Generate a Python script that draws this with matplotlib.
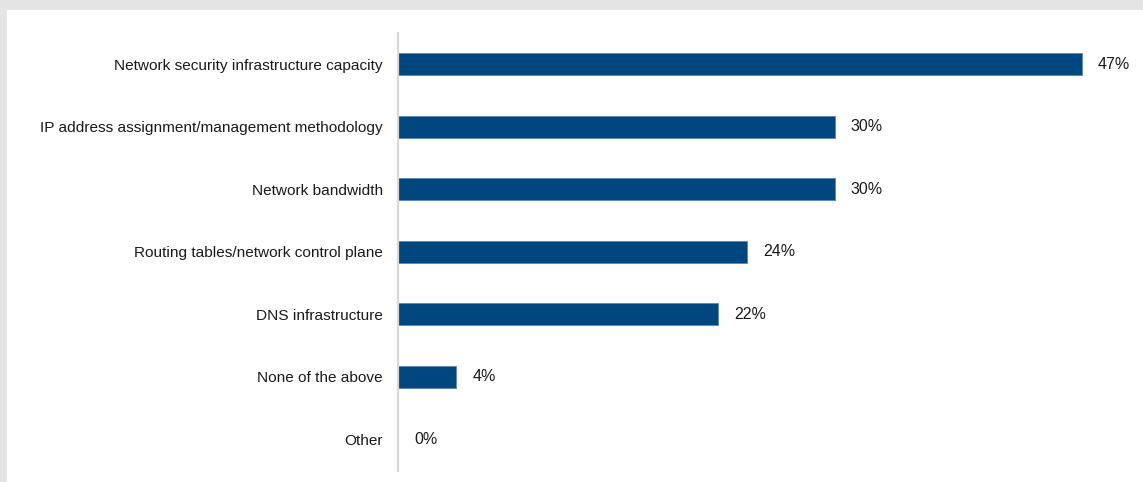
import matplotlib
matplotlib.use('Agg')
from matplotlib import pyplot as plt
from matplotlib.patches import Rectangle
from matplotlib import font_manager

categories = [
    'Network security infrastructure capacity',
    'IP address assignment/management methodology',
    'Network bandwidth',
    'Routing tables/network control plane',
    'DNS infrastructure',
    'None of the above',
    'Other',
]
values = [47, 30, 30, 24, 22, 4, 0]

BAR = '#00467f'

names = {f.name for f in font_manager.fontManager.ttflist}
family = 'Liberation Sans Narrow' if 'Liberation Sans Narrow' in names else 'Liberation Sans'
plt.rcParams['font.family'] = [family, 'DejaVu Sans']

W, H = 1143, 482
fig = plt.figure(figsize=(W / 100, H / 100), dpi=100)
fig.patch.set_facecolor('#e4e4e4')
fig.patches.append(Rectangle((7 / W, 0), 1, (H - 10) / H, transform=fig.transFigure,
                             facecolor='white', edgecolor='none', zorder=-10))

ax = fig.add_axes([398 / W, (H - 470.5) / H, 700 / W, 437.5 / H])
ax.set_facecolor('none')

pos = list(range(len(categories)))
ax.barh(pos, values, height=0.35, color=BAR, edgecolor='#5b86ad', linewidth=0.6)
for p, v in zip(pos, values):
    ax.text(v + 1.1, p, '{}%'.format(v), va='center', ha='left', fontsize=11.5, color='#1a1a1a')

ax.set_yticks(pos)
ax.set_yticklabels(categories, fontsize=11.1, color='#1a1a1a')
ax.tick_params(axis='y', length=0, pad=11)
ax.set_xticks([])
ax.set_xlim(0, 700 / (684 / 47))
ax.set_ylim(len(categories) - 0.5, -0.5)

for s in ['top', 'right', 'bottom']:
    ax.spines[s].set_visible(False)
ax.spines['left'].set_color('#d9d9d9')
ax.spines['left'].set_linewidth(1.6)

fig.savefig('out.png', dpi=100, facecolor=fig.get_facecolor())
